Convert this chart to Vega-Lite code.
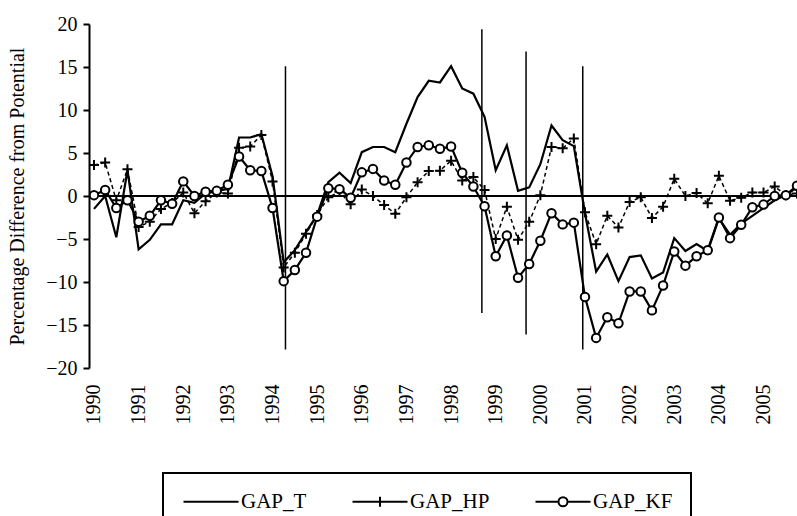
{
  "$schema": "https://vega.github.io/schema/vega-lite/v6.json",
  "width": 708,
  "height": 344,
  "autosize": {"type": "none"},
  "padding": {"left": 89, "top": 24, "right": 0, "bottom": 148},
  "background": "white",
  "config": {"view": {"stroke": null}, "font": "Liberation Serif", "legend": {"strokeWidth": 2}},
  "datasets": {
    "events": [
      {"t": 1994.29, "top": 15.1, "bottom": -17.85},
      {"t": 1998.69, "top": 19.4, "bottom": -13.6},
      {"t": 1999.68, "top": 16.8, "bottom": -16.1},
      {"t": 2000.95, "top": 15.1, "bottom": -17.85}
    ],
    "zero": [{"v": 0}],
    "series": [
      {"t": 1990.00, "s": "GAP_T", "v": -1.5}, {"t": 1990.25, "s": "GAP_T", "v": 0.0}, {"t": 1990.50, "s": "GAP_T", "v": -4.8}, {"t": 1990.75, "s": "GAP_T", "v": 3.0},
      {"t": 1991.00, "s": "GAP_T", "v": -6.2}, {"t": 1991.25, "s": "GAP_T", "v": -5.1}, {"t": 1991.50, "s": "GAP_T", "v": -3.3}, {"t": 1991.75, "s": "GAP_T", "v": -3.3},
      {"t": 1992.00, "s": "GAP_T", "v": -0.5}, {"t": 1992.25, "s": "GAP_T", "v": -0.8}, {"t": 1992.50, "s": "GAP_T", "v": 0.3}, {"t": 1992.75, "s": "GAP_T", "v": 0.6},
      {"t": 1993.00, "s": "GAP_T", "v": 0.8}, {"t": 1993.25, "s": "GAP_T", "v": 6.8}, {"t": 1993.50, "s": "GAP_T", "v": 6.8}, {"t": 1993.75, "s": "GAP_T", "v": 7.2},
      {"t": 1994.00, "s": "GAP_T", "v": 2.3}, {"t": 1994.25, "s": "GAP_T", "v": -7.7}, {"t": 1994.50, "s": "GAP_T", "v": -6.3}, {"t": 1994.75, "s": "GAP_T", "v": -4.2},
      {"t": 1995.00, "s": "GAP_T", "v": -2.2}, {"t": 1995.25, "s": "GAP_T", "v": 1.6}, {"t": 1995.50, "s": "GAP_T", "v": 2.7}, {"t": 1995.75, "s": "GAP_T", "v": 1.5},
      {"t": 1996.00, "s": "GAP_T", "v": 5.1}, {"t": 1996.25, "s": "GAP_T", "v": 5.7}, {"t": 1996.50, "s": "GAP_T", "v": 5.7}, {"t": 1996.75, "s": "GAP_T", "v": 5.1},
      {"t": 1997.00, "s": "GAP_T", "v": 8.4}, {"t": 1997.25, "s": "GAP_T", "v": 11.5}, {"t": 1997.50, "s": "GAP_T", "v": 13.4}, {"t": 1997.75, "s": "GAP_T", "v": 13.2},
      {"t": 1998.00, "s": "GAP_T", "v": 15.1}, {"t": 1998.25, "s": "GAP_T", "v": 12.5}, {"t": 1998.50, "s": "GAP_T", "v": 11.9}, {"t": 1998.75, "s": "GAP_T", "v": 9.2},
      {"t": 1999.00, "s": "GAP_T", "v": 3.0}, {"t": 1999.25, "s": "GAP_T", "v": 5.9}, {"t": 1999.50, "s": "GAP_T", "v": 0.6}, {"t": 1999.75, "s": "GAP_T", "v": 1.0},
      {"t": 2000.00, "s": "GAP_T", "v": 3.7}, {"t": 2000.25, "s": "GAP_T", "v": 8.2}, {"t": 2000.50, "s": "GAP_T", "v": 6.5}, {"t": 2000.75, "s": "GAP_T", "v": 5.8},
      {"t": 2001.00, "s": "GAP_T", "v": -2.0}, {"t": 2001.25, "s": "GAP_T", "v": -8.8}, {"t": 2001.50, "s": "GAP_T", "v": -6.8}, {"t": 2001.75, "s": "GAP_T", "v": -9.9},
      {"t": 2002.00, "s": "GAP_T", "v": -7.1}, {"t": 2002.25, "s": "GAP_T", "v": -6.9}, {"t": 2002.50, "s": "GAP_T", "v": -9.6}, {"t": 2002.75, "s": "GAP_T", "v": -8.9},
      {"t": 2003.00, "s": "GAP_T", "v": -4.9}, {"t": 2003.25, "s": "GAP_T", "v": -6.4}, {"t": 2003.50, "s": "GAP_T", "v": -5.6}, {"t": 2003.75, "s": "GAP_T", "v": -6.4},
      {"t": 2004.00, "s": "GAP_T", "v": -2.6}, {"t": 2004.25, "s": "GAP_T", "v": -4.5}, {"t": 2004.50, "s": "GAP_T", "v": -3.2}, {"t": 2004.75, "s": "GAP_T", "v": -2.3},
      {"t": 2005.00, "s": "GAP_T", "v": -1.4}, {"t": 2005.25, "s": "GAP_T", "v": -0.5}, {"t": 2005.50, "s": "GAP_T", "v": 0.1}, {"t": 2005.75, "s": "GAP_T", "v": 1.0},

      {"t": 1990.00, "s": "GAP_HP", "v": 3.6}, {"t": 1990.25, "s": "GAP_HP", "v": 3.9}, {"t": 1990.50, "s": "GAP_HP", "v": -0.5}, {"t": 1990.75, "s": "GAP_HP", "v": 3.1},
      {"t": 1991.00, "s": "GAP_HP", "v": -3.6}, {"t": 1991.25, "s": "GAP_HP", "v": -3.0}, {"t": 1991.50, "s": "GAP_HP", "v": -1.5}, {"t": 1991.75, "s": "GAP_HP", "v": -0.8},
      {"t": 1992.00, "s": "GAP_HP", "v": 0.4}, {"t": 1992.25, "s": "GAP_HP", "v": -2.0}, {"t": 1992.50, "s": "GAP_HP", "v": -0.6}, {"t": 1992.75, "s": "GAP_HP", "v": 0.4},
      {"t": 1993.00, "s": "GAP_HP", "v": 0.3}, {"t": 1993.25, "s": "GAP_HP", "v": 5.6}, {"t": 1993.50, "s": "GAP_HP", "v": 5.75}, {"t": 1993.75, "s": "GAP_HP", "v": 7.1},
      {"t": 1994.00, "s": "GAP_HP", "v": 1.7}, {"t": 1994.25, "s": "GAP_HP", "v": -8.3}, {"t": 1994.50, "s": "GAP_HP", "v": -6.6}, {"t": 1994.75, "s": "GAP_HP", "v": -4.4},
      {"t": 1995.00, "s": "GAP_HP", "v": -2.2}, {"t": 1995.25, "s": "GAP_HP", "v": -0.15}, {"t": 1995.50, "s": "GAP_HP", "v": 0.5}, {"t": 1995.75, "s": "GAP_HP", "v": -0.95},
      {"t": 1996.00, "s": "GAP_HP", "v": 0.75}, {"t": 1996.25, "s": "GAP_HP", "v": 0.0}, {"t": 1996.50, "s": "GAP_HP", "v": -1.05}, {"t": 1996.75, "s": "GAP_HP", "v": -2.05},
      {"t": 1997.00, "s": "GAP_HP", "v": -0.15}, {"t": 1997.25, "s": "GAP_HP", "v": 1.6}, {"t": 1997.50, "s": "GAP_HP", "v": 2.9}, {"t": 1997.75, "s": "GAP_HP", "v": 2.95},
      {"t": 1998.00, "s": "GAP_HP", "v": 4.1}, {"t": 1998.25, "s": "GAP_HP", "v": 1.8}, {"t": 1998.50, "s": "GAP_HP", "v": 2.2}, {"t": 1998.75, "s": "GAP_HP", "v": 0.7},
      {"t": 1999.00, "s": "GAP_HP", "v": -5.0}, {"t": 1999.25, "s": "GAP_HP", "v": -1.25}, {"t": 1999.50, "s": "GAP_HP", "v": -5.1}, {"t": 1999.75, "s": "GAP_HP", "v": -3.0},
      {"t": 2000.00, "s": "GAP_HP", "v": 0.1}, {"t": 2000.25, "s": "GAP_HP", "v": 5.7}, {"t": 2000.50, "s": "GAP_HP", "v": 5.55}, {"t": 2000.75, "s": "GAP_HP", "v": 6.7},
      {"t": 2001.00, "s": "GAP_HP", "v": -1.9}, {"t": 2001.25, "s": "GAP_HP", "v": -5.6}, {"t": 2001.50, "s": "GAP_HP", "v": -2.3}, {"t": 2001.75, "s": "GAP_HP", "v": -3.65},
      {"t": 2002.00, "s": "GAP_HP", "v": -0.7}, {"t": 2002.25, "s": "GAP_HP", "v": -0.15}, {"t": 2002.50, "s": "GAP_HP", "v": -2.55}, {"t": 2002.75, "s": "GAP_HP", "v": -1.25},
      {"t": 2003.00, "s": "GAP_HP", "v": 2.0}, {"t": 2003.25, "s": "GAP_HP", "v": 0.0}, {"t": 2003.50, "s": "GAP_HP", "v": 0.35}, {"t": 2003.75, "s": "GAP_HP", "v": -0.85},
      {"t": 2004.00, "s": "GAP_HP", "v": 2.35}, {"t": 2004.25, "s": "GAP_HP", "v": -0.55}, {"t": 2004.50, "s": "GAP_HP", "v": -0.2}, {"t": 2004.75, "s": "GAP_HP", "v": 0.4},
      {"t": 2005.00, "s": "GAP_HP", "v": 0.4}, {"t": 2005.25, "s": "GAP_HP", "v": 1.1}, {"t": 2005.50, "s": "GAP_HP", "v": 0.1}, {"t": 2005.75, "s": "GAP_HP", "v": 0.3},

      {"t": 1990.00, "s": "GAP_KF", "v": 0.1}, {"t": 1990.25, "s": "GAP_KF", "v": 0.7}, {"t": 1990.50, "s": "GAP_KF", "v": -1.4}, {"t": 1990.75, "s": "GAP_KF", "v": -0.5},
      {"t": 1991.00, "s": "GAP_KF", "v": -3.0}, {"t": 1991.25, "s": "GAP_KF", "v": -2.3}, {"t": 1991.50, "s": "GAP_KF", "v": -0.5}, {"t": 1991.75, "s": "GAP_KF", "v": -0.9},
      {"t": 1992.00, "s": "GAP_KF", "v": 1.7}, {"t": 1992.25, "s": "GAP_KF", "v": 0.0}, {"t": 1992.50, "s": "GAP_KF", "v": 0.5}, {"t": 1992.75, "s": "GAP_KF", "v": 0.6},
      {"t": 1993.00, "s": "GAP_KF", "v": 1.3}, {"t": 1993.25, "s": "GAP_KF", "v": 4.6}, {"t": 1993.50, "s": "GAP_KF", "v": 3.0}, {"t": 1993.75, "s": "GAP_KF", "v": 2.9},
      {"t": 1994.00, "s": "GAP_KF", "v": -1.4}, {"t": 1994.25, "s": "GAP_KF", "v": -9.9}, {"t": 1994.50, "s": "GAP_KF", "v": -8.6}, {"t": 1994.75, "s": "GAP_KF", "v": -6.6},
      {"t": 1995.00, "s": "GAP_KF", "v": -2.4}, {"t": 1995.25, "s": "GAP_KF", "v": 0.9}, {"t": 1995.50, "s": "GAP_KF", "v": 0.8}, {"t": 1995.75, "s": "GAP_KF", "v": -0.2},
      {"t": 1996.00, "s": "GAP_KF", "v": 2.75}, {"t": 1996.25, "s": "GAP_KF", "v": 3.15}, {"t": 1996.50, "s": "GAP_KF", "v": 1.8}, {"t": 1996.75, "s": "GAP_KF", "v": 1.3},
      {"t": 1997.00, "s": "GAP_KF", "v": 3.9}, {"t": 1997.25, "s": "GAP_KF", "v": 5.7}, {"t": 1997.50, "s": "GAP_KF", "v": 5.9}, {"t": 1997.75, "s": "GAP_KF", "v": 5.5},
      {"t": 1998.00, "s": "GAP_KF", "v": 5.75}, {"t": 1998.25, "s": "GAP_KF", "v": 2.7}, {"t": 1998.50, "s": "GAP_KF", "v": 1.1}, {"t": 1998.75, "s": "GAP_KF", "v": -1.2},
      {"t": 1999.00, "s": "GAP_KF", "v": -7.0}, {"t": 1999.25, "s": "GAP_KF", "v": -4.6}, {"t": 1999.50, "s": "GAP_KF", "v": -9.5}, {"t": 1999.75, "s": "GAP_KF", "v": -7.9},
      {"t": 2000.00, "s": "GAP_KF", "v": -5.2}, {"t": 2000.25, "s": "GAP_KF", "v": -2.0}, {"t": 2000.50, "s": "GAP_KF", "v": -3.3}, {"t": 2000.75, "s": "GAP_KF", "v": -3.1},
      {"t": 2001.00, "s": "GAP_KF", "v": -11.75}, {"t": 2001.25, "s": "GAP_KF", "v": -16.5}, {"t": 2001.50, "s": "GAP_KF", "v": -14.1}, {"t": 2001.75, "s": "GAP_KF", "v": -14.8},
      {"t": 2002.00, "s": "GAP_KF", "v": -11.1}, {"t": 2002.25, "s": "GAP_KF", "v": -11.1}, {"t": 2002.50, "s": "GAP_KF", "v": -13.3}, {"t": 2002.75, "s": "GAP_KF", "v": -10.4},
      {"t": 2003.00, "s": "GAP_KF", "v": -6.45}, {"t": 2003.25, "s": "GAP_KF", "v": -8.1}, {"t": 2003.50, "s": "GAP_KF", "v": -7.0}, {"t": 2003.75, "s": "GAP_KF", "v": -6.3},
      {"t": 2004.00, "s": "GAP_KF", "v": -2.5}, {"t": 2004.25, "s": "GAP_KF", "v": -4.9}, {"t": 2004.50, "s": "GAP_KF", "v": -3.35}, {"t": 2004.75, "s": "GAP_KF", "v": -1.3},
      {"t": 2005.00, "s": "GAP_KF", "v": -1.0}, {"t": 2005.25, "s": "GAP_KF", "v": 0.0}, {"t": 2005.50, "s": "GAP_KF", "v": 0.1}, {"t": 2005.75, "s": "GAP_KF", "v": 1.2}
    ]
  },
  "layer": [
    {
      "data": {"name": "zero"},
      "mark": {"type": "rule", "stroke": "black", "strokeWidth": 2},
      "encoding": {
        "y": {
          "field": "v", "type": "quantitative",
          "scale": {"domain": [-20, 20], "nice": false, "zero": false},
          "axis": {
            "orient": "left",
            "values": [-20, -15, -10, -5, 0, 5, 10, 15, 20],
            "grid": false,
            "domain": true, "domainColor": "black", "domainWidth": 2,
            "ticks": true, "tickColor": "black", "tickWidth": 2, "tickSize": 6,
            "labelFont": "Liberation Serif", "labelFontSize": 20, "labelColor": "black", "labelPadding": 6,
            "title": "Percentage Difference from Potential",
            "titleFont": "Liberation Serif", "titleFontSize": 20, "titleFontWeight": "normal", "titleColor": "black", "titlePadding": 18
          }
        }
      }
    },
    {
      "data": {"name": "events"},
      "mark": {"type": "rule", "stroke": "black", "strokeWidth": 1.5},
      "encoding": {
        "x": {"field": "t", "type": "quantitative", "scale": {"domain": [1989.888, 2005.75], "nice": false, "zero": false}},
        "y": {"field": "top", "type": "quantitative", "scale": {"domain": [-20, 20], "nice": false, "zero": false}},
        "y2": {"field": "bottom"}
      }
    },
    {
      "data": {"name": "series"},
      "transform": [{"filter": "datum.s === 'GAP_HP'"}],
      "mark": {"type": "line", "stroke": "black", "strokeWidth": 1.5, "strokeDash": [4, 3]},
      "encoding": {
        "x": {"field": "t", "type": "quantitative", "scale": {"domain": [1989.888, 2005.75], "nice": false, "zero": false}},
        "y": {"field": "v", "type": "quantitative", "scale": {"domain": [-20, 20], "nice": false, "zero": false}},
        "detail": {"field": "s"}
      }
    },
    {
      "data": {"name": "series"},
      "transform": [{"filter": "datum.s !== 'GAP_HP'"}],
      "mark": {"type": "line", "stroke": "black", "strokeWidth": 2.2},
      "encoding": {
        "x": {"field": "t", "type": "quantitative", "scale": {"domain": [1989.888, 2005.75], "nice": false, "zero": false},
          "axis": {
            "orient": "bottom",
            "values": [1990, 1991, 1992, 1993, 1994, 1995, 1996, 1997, 1998, 1999, 2000, 2001, 2002, 2003, 2004, 2005],
            "format": "d",
            "grid": false, "domain": false, "ticks": false, "tickSize": 0,
            "labelAngle": -90, "labelPadding": 16, "labelOverlap": false,
            "labelFont": "Liberation Serif", "labelFontSize": 20, "labelColor": "black",
            "title": null
          }
        },
        "y": {"field": "v", "type": "quantitative", "scale": {"domain": [-20, 20], "nice": false, "zero": false}},
        "detail": {"field": "s"}
      }
    },
    {
      "data": {"name": "series"},
      "transform": [{"filter": "datum.s === 'GAP_HP'"}],
      "mark": {"type": "point", "shape": "M-1,0H1M0,-1V1", "size": 100, "filled": false, "stroke": "black", "strokeWidth": 2, "opacity": 1},
      "encoding": {
        "x": {"field": "t", "type": "quantitative", "scale": {"domain": [1989.888, 2005.75], "nice": false, "zero": false}},
        "y": {"field": "v", "type": "quantitative", "scale": {"domain": [-20, 20], "nice": false, "zero": false}}
      }
    },
    {
      "data": {"name": "series"},
      "transform": [{"filter": "datum.s === 'GAP_KF'"}],
      "mark": {"type": "point", "shape": "circle", "size": 72, "filled": true, "fill": "white", "stroke": "black", "strokeWidth": 2, "opacity": 1},
      "encoding": {
        "x": {"field": "t", "type": "quantitative", "scale": {"domain": [1989.888, 2005.75], "nice": false, "zero": false}},
        "y": {"field": "v", "type": "quantitative", "scale": {"domain": [-20, 20], "nice": false, "zero": false}}
      }
    },
    {
      "data": {"name": "series"},
      "transform": [{"filter": "datum.s === 'none'"}],
      "mark": {"type": "point", "filled": false, "stroke": "black", "strokeWidth": 2, "opacity": 1},
      "encoding": {
        "x": {"field": "t", "type": "quantitative", "scale": {"domain": [1989.888, 2005.75], "nice": false, "zero": false}},
        "y": {"field": "v", "type": "quantitative", "scale": {"domain": [-20, 20], "nice": false, "zero": false}},
        "shape": {
          "field": "s", "type": "nominal",
          "scale": {
            "domain": ["GAP_T", "GAP_HP", "GAP_KF"],
            "range": ["M-1.6,0H9.4", "M-1.6,0H9.4M3.9,-1V1", "M-1.6,0H3M4.8,0H9.4M4.8,0A0.9,0.9,0,1,1,3,0A0.9,0.9,0,1,1,4.8,0"]
          },
          "legend": {
            "orient": "none", "legendX": 74, "legendY": 449,
            "direction": "horizontal", "columns": 3,
            "title": null, "padding": 18,
            "strokeColor": "black",
            "symbolSize": 100, "symbolStrokeWidth": 2, "symbolStrokeColor": "black", "symbolOpacity": 1,
            "labelOffset": 39, "columnPadding": 41,
            "labelFont": "Liberation Serif", "labelFontSize": 21, "labelColor": "black"
          }
        }
      }
    }
  ]
}
